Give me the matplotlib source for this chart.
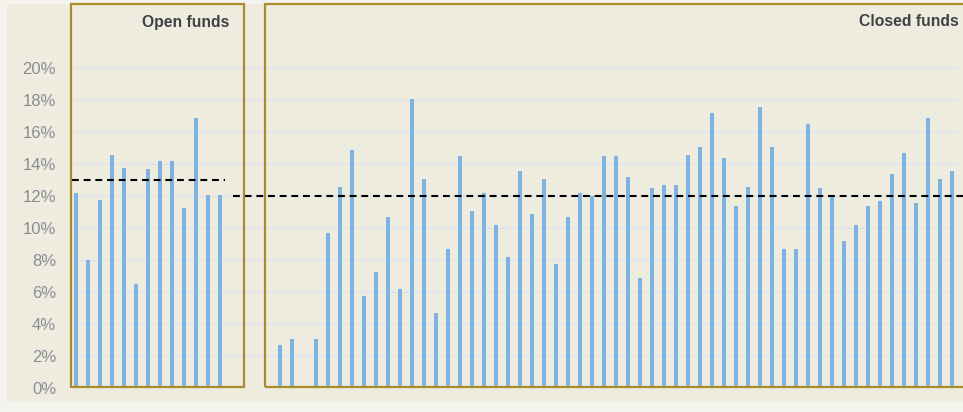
import numpy as np
import matplotlib
matplotlib.use("Agg")
from matplotlib import pyplot as plt
from matplotlib.patches import Rectangle
from matplotlib.ticker import PercentFormatter

# returns per fund (fraction); nan = empty slot
open_funds = [0.122, 0.080, 0.118, 0.146, 0.138, 0.065, 0.137, 0.142, 0.142,
              0.113, 0.169, 0.121, 0.121]
gap_slots = 4
closed_funds = [0.027, 0.031, np.nan, 0.031, 0.097, 0.126, 0.149, 0.058, 0.073,
                0.107, 0.062, 0.181, 0.131, 0.047, 0.087, 0.145, 0.111, 0.122,
                0.102, 0.082, 0.136, 0.109, 0.131, 0.078, 0.107, 0.122, 0.120,
                0.145, 0.145, 0.132, 0.069, 0.125, 0.127, 0.127, 0.146, 0.151,
                0.172, 0.144, 0.114, 0.126, 0.176, 0.151, 0.087, 0.087, 0.165,
                0.125, 0.120, 0.092, 0.102, 0.114, 0.117, 0.134, 0.147, 0.116,
                0.169, 0.131, 0.136]
open_avg = 0.130
closed_avg = 0.120
y_ticks = np.arange(0, 0.201, 0.02)

values = np.array(open_funds + [np.nan] * gap_slots + closed_funds)
x = np.arange(len(values))
n_open = len(open_funds)
closed_start = n_open + gap_slots

W, H = 963, 412
fig = plt.figure(figsize=(W / 100, H / 100), dpi=100, facecolor="#F4F3EE")
# beige panel behind the chart
fig.patches.append(Rectangle((7 / W, (H - 402) / H), 1, (402 - 4) / H,
                             transform=fig.transFigure, facecolor="#EEECDF",
                             edgecolor="none", zorder=-10))

ax = fig.add_axes([70 / W, (H - 388.3) / H, (958 - 70) / W, 384 / H])
ax.set_facecolor("none")

box_col = "#AB8A2C"
bar_col = "#7EB3E0"

ax.bar(x, np.nan_to_num(values), width=0.34, color=bar_col, zorder=3)

ax.set_xlim(-0.5, len(values) - 0.5)
ax.set_ylim(0, 0.24)
ax.set_yticks(y_ticks)
ax.yaxis.set_major_formatter(PercentFormatter(1.0, decimals=0))
ax.set_xticks([])
ax.grid(axis="y", color="#DDE2EC", linewidth=1, zorder=1)
ax.tick_params(axis="y", length=0, pad=10, labelsize=12, labelcolor="#8A8E93")
for lbl in ax.get_yticklabels():
    lbl.set_family("Liberation Sans")
for s in ax.spines.values():
    s.set_visible(False)
ax.axhline(0, color="#D6D6D6", linewidth=1, zorder=2)

# average lines
ax.plot([-0.3, n_open - 0.6], [open_avg, open_avg], color="black",
        linewidth=1.5, linestyle=(0, (3.3, 2.3)), zorder=4)
ax.plot([n_open + 0.08, len(values) + 2], [closed_avg, closed_avg], color="black",
        linewidth=1.5, linestyle=(0, (3.3, 2.3)), zorder=4, clip_on=False)

# group boxes
ax.add_patch(Rectangle((-0.45, 0.001), n_open + 1.45, 0.239,
                       fill=False, edgecolor=box_col, linewidth=1.6,
                       clip_on=False, zorder=5))
ax.add_patch(Rectangle((closed_start - 1.25, 0.001), 80, 0.239,
                       fill=False, edgecolor=box_col, linewidth=1.6,
                       clip_on=False, zorder=5))

ax.text(229 / W, (H - 22) / H, "Open funds", transform=fig.transFigure,
        ha="right", va="center", fontsize=11.3, fontweight="bold",
        color="#404244", family="Liberation Sans")
ax.text(959 / W, (H - 22) / H, "Closed funds", transform=fig.transFigure,
        ha="right", va="center", fontsize=11.3, fontweight="bold",
        color="#404244", family="Liberation Sans")

fig.savefig("out.png", dpi=100, facecolor=fig.get_facecolor())
